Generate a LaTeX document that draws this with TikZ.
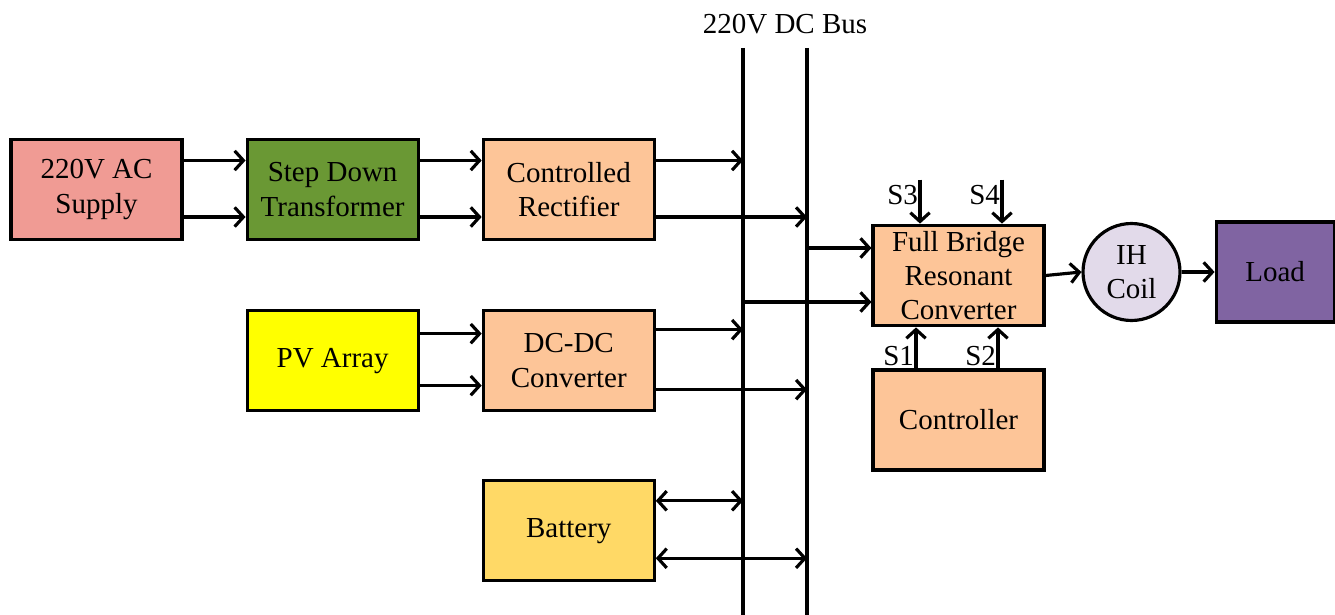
\documentclass[tikz,border=0pt]{standalone}
\usepackage{fontspec}
\setmainfont{Liberation Serif}
\usepackage{xcolor}
\usetikzlibrary{arrows.meta, positioning}

\definecolor{acred}{RGB}{240,155,148}
\definecolor{stepgreen}{RGB}{106,152,52}
\definecolor{peach}{RGB}{253,197,152}
\definecolor{pvyellow}{RGB}{255,255,0}
\definecolor{batgold}{RGB}{255,217,102}
\definecolor{coillilac}{RGB}{226,218,234}
\definecolor{loadpurple}{RGB}{128,100,162}

\begin{document}
\begin{tikzpicture}[
    x=0.02cm, y=-0.02cm,
    every node/.style={font=\fontsize{16.5}{19.5}\selectfont},
    block/.style={
        rectangle,
        minimum width=3.42cm,
        minimum height=2cm,
        align=center,
        line width=1.8pt,
        draw=black
    },
    coilnode/.style={
        circle,
        minimum size=1.94cm,
        inner sep=0pt,
        align=center,
        line width=1.8pt,
        draw=black
    },
    arrow/.style={line width=1.8pt,-{Straight Barb[length=5pt,width=11pt]}},
    twoway/.style={line width=1.8pt,{Straight Barb[length=5pt,width=11pt]}-{Straight Barb[length=5pt,width=11pt]}},
    busline/.style={line width=1.8pt}
]
\useasboundingbox (0,0) rectangle (1335,615);

\node (ac) [block, fill=acred] at (96.5,189.5) {220V AC\\Supply};
\node (sdt) [block, fill=stepgreen, right=1.24cm of ac] {Step Down\\Transformer};
\node (cr) [block, fill=peach, right=1.24cm of sdt] {Controlled\\Rectifier};
\node (dcdc) [block, fill=peach, below=1.36cm of cr] {DC-DC\\Converter};
\node (pv) [block, fill=pvyellow, left=1.24cm of dcdc] {PV Array};
\node (bat) [block, fill=batgold, below=1.34cm of dcdc] {Battery};

% DC bus
\node (title) at (785,24) {220V DC Bus};
\coordinate (bus1top) at (743,48);
\coordinate (bus1bot) at (743,615);
\coordinate (bus2top) at (807,48);
\coordinate (bus2bot) at (807,615);
\draw[busline] (bus1top) -- (bus1bot);
\draw[busline] (bus2top) -- (bus2bot);

\node (fb) [block, fill=peach] at (958.5,275.5) {Full Bridge\\Resonant\\Converter};
\node (ctrl) [block, fill=peach, below=0.82cm of fb] {Controller};
\node (coil) [coilnode, fill=coillilac] at (1131.5,272) {IH\\Coil};
\node (load) [block, fill=loadpurple, minimum width=2.36cm, right=0.66cm of coil] {Load};

% Arrows
\draw[arrow] ([yshift=0.58cm]ac.east) -- ([yshift=0.58cm]sdt.west);
\draw[arrow] ([yshift=-0.55cm]ac.east) -- ([yshift=-0.55cm]sdt.west);
\draw[arrow] ([yshift=0.58cm]sdt.east) -- ([yshift=0.58cm]cr.west);
\draw[arrow] ([yshift=-0.55cm]sdt.east) -- ([yshift=-0.55cm]cr.west);
\draw[arrow] ([yshift=0.54cm]pv.east) -- ([yshift=0.54cm]dcdc.west);
\draw[arrow] ([yshift=-0.5cm]pv.east) -- ([yshift=-0.5cm]dcdc.west);

\coordinate (crA) at ([yshift=0.58cm]cr.east);
\coordinate (crB) at ([yshift=-0.55cm]cr.east);
\coordinate (dcA) at ([yshift=0.62cm]dcdc.east);
\coordinate (dcB) at ([yshift=-0.58cm]dcdc.east);
\coordinate (batA) at ([yshift=0.6cm]bat.east);
\coordinate (batB) at ([yshift=-0.55cm]bat.east);
\draw[arrow] (crA) -- (crA -| bus1top);
\draw[arrow] (crB) -- (crB -| bus2top);
\draw[arrow] (dcA) -- (dcA -| bus1top);
\draw[arrow] (dcB) -- (dcB -| bus2top);
\draw[twoway] (batA) -- (batA -| bus1top);
\draw[twoway] (batB) -- (batB -| bus2top);

\coordinate (fbA) at ([yshift=0.55cm]fb.west);
\coordinate (fbB) at ([yshift=-0.53cm]fb.west);
\draw[arrow] (fbA -| bus2top) -- (fbA);
\draw[arrow] (fbB -| bus1top) -- (fbB);

% switching signals
\coordinate (s3top) at ([xshift=-0.77cm,yshift=0.88cm]fb.north);
\coordinate (s4top) at ([xshift=0.87cm,yshift=0.88cm]fb.north);
\draw[arrow] (s3top) -- (s3top |- fb.north);
\draw[arrow] (s4top) -- (s4top |- fb.north);
\node (s3) [anchor=east, inner sep=1pt] at ([yshift=-0.3cm]s3top) {S3};
\node (s4) [anchor=east, inner sep=1pt] at ([yshift=-0.3cm]s4top) {S4};

\coordinate (s1bot) at ([xshift=-0.85cm]ctrl.north);
\coordinate (s2bot) at ([xshift=0.79cm]ctrl.north);
\draw[arrow] (s1bot) -- (s1bot |- fb.south);
\draw[arrow] (s2bot) -- (s2bot |- fb.south);
\node (s1) [anchor=east, inner sep=1pt] at ([yshift=0.25cm]s1bot) {S1};
\node (s2) [anchor=east, inner sep=1pt] at ([yshift=0.25cm]s2bot) {S2};

\draw[arrow] (fb.east) -- (coil.west);
\draw[arrow] (coil.east) -- (load.west);

\end{tikzpicture}
\end{document}
